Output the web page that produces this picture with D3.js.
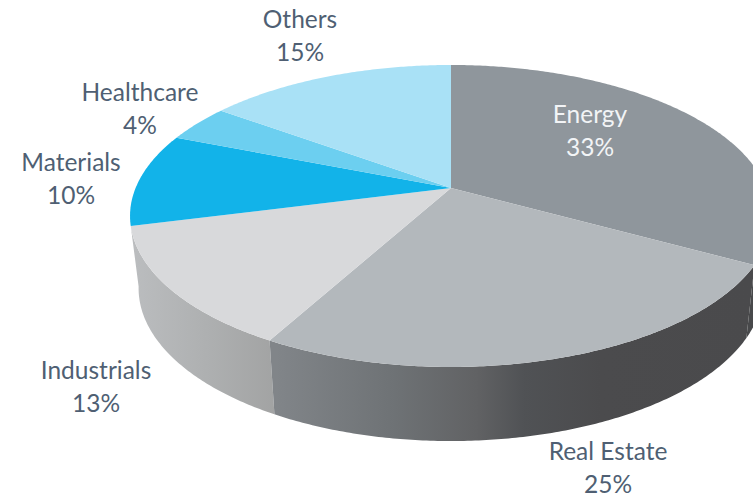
<!DOCTYPE html>
<html>
<head>
<meta charset="utf-8">
<script src="https://cdn.jsdelivr.net/npm/d3@7"></script>
<style>
  html, body { margin: 0; padding: 0; background: #fff; }
  svg { display: block; }
  text { font-family: Lato, "Open Sans", sans-serif; font-size: 24.5px; text-anchor: middle; }
</style>
</head>
<body>
<svg id="chart" width="753" height="493"></svg>
<script>
// Portfolio allocation by sector
const sectors = ["Energy", "Real Estate", "Industrials", "Materials", "Healthcare", "Others"];
const shares = [33, 25, 13, 10, 4, 15];
const topColors = ["#8f969c", "#b3b8bc", "#d8d9db", "#12b3e9", "#6ccff0", "#a9e1f6"];

// Label centres, one per sector
const labelX = [590, 608, 96, 71, 140, 300];
const labelY = [114, 451, 370, 162, 92, 19];
const labelColors = ["#f2f4f6", "#4f5f73", "#4f5f73", "#4f5f73", "#4f5f73", "#4f5f73"];

// Tilted-disc projection: a unit circle seen in perspective, apex above the ellipse centre
const apex = { x: 451, y: 188 };
const tilt = 0.1853;
const depth = 72;
const topDisc = { rx: 315.4, ry: 145.8, dy: 0 };
const baseDisc = { rx: 307, ry: 147.5, dy: depth };

function project(angle, disc) {
  const u = Math.sin(angle), v = -Math.cos(angle);
  const w = 1 - tilt * v;
  return [apex.x + disc.rx * u / w, apex.y + disc.dy + disc.ry * v / w];
}

function arcPoints(a0, a1, disc) {
  const n = Math.max(2, Math.ceil(Math.abs(a1 - a0) / 0.01));
  return d3.range(n + 1).map(i => project(a0 + (a1 - a0) * i / n, disc));
}

const rad = d => d * Math.PI / 180;
const arcs = d3.pie().sort(null).value(d => d)(shares);
const line = d3.line();
const svg = d3.select("#chart");
const defs = svg.append("defs");

function wallGradient(id, x0, x1, stops) {
  const g = defs.append("linearGradient").attr("id", id)
    .attr("gradientUnits", "userSpaceOnUse")
    .attr("x1", x0).attr("x2", x1).attr("y1", 0).attr("y2", 0);
  stops.forEach(s => g.append("stop").attr("offset", s[0]).attr("stop-color", s[1]));
}
wallGradient("wall-industrials", 131, 281, [[0, "#bbbdbf"], [0.5, "#aeb0b1"], [1, "#a1a2a2"]]);
wallGradient("wall-realestate", 276, 753, [[0, "#818589"], [0.25, "#6e7275"], [0.42, "#616264"], [0.52, "#505255"], [0.68, "#4b4b4d"], [1, "#4a4a4c"]]);

// Side walls, drawn behind the top face
const edgeAngle = rad(260);
const walls = svg.append("g");
const ind = arcs[2], real = arcs[1], en = arcs[0];
walls.append("path")
  .attr("d", line(arcPoints(ind.startAngle, ind.endAngle, topDisc)
    .concat(arcPoints(edgeAngle, ind.startAngle, baseDisc))) + "Z")
  .attr("fill", "url(#wall-industrials)");
walls.append("path")
  .attr("d", line(arcPoints(real.startAngle, real.endAngle, topDisc)
    .concat(arcPoints(real.endAngle, real.startAngle, baseDisc))) + "Z")
  .attr("fill", "url(#wall-realestate)");
walls.append("path")
  .attr("d", line(arcPoints(rad(90), en.endAngle, topDisc)
    .concat(arcPoints(en.endAngle, rad(90), baseDisc))) + "Z")
  .attr("fill", "#48494b");

// Top face slices
svg.append("g").selectAll("path").data(arcs).join("path")
  .attr("d", d => line([[apex.x, apex.y]].concat(arcPoints(d.startAngle, d.endAngle, topDisc))) + "Z")
  .attr("fill", (d, i) => topColors[i]);

// Two-line labels: sector name, then share
const labels = svg.append("g").selectAll("g").data(sectors).join("g")
  .attr("transform", (d, i) => `translate(${labelX[i]},${labelY[i]})`);
labels.append("text").attr("dy", "0.35em")
  .style("fill", (d, i) => labelColors[i]).text(d => d);
labels.append("text").attr("y", 33).attr("dy", "0.35em")
  .style("fill", (d, i) => labelColors[i]).text((d, i) => shares[i] + "%");
</script>
</body>
</html>
